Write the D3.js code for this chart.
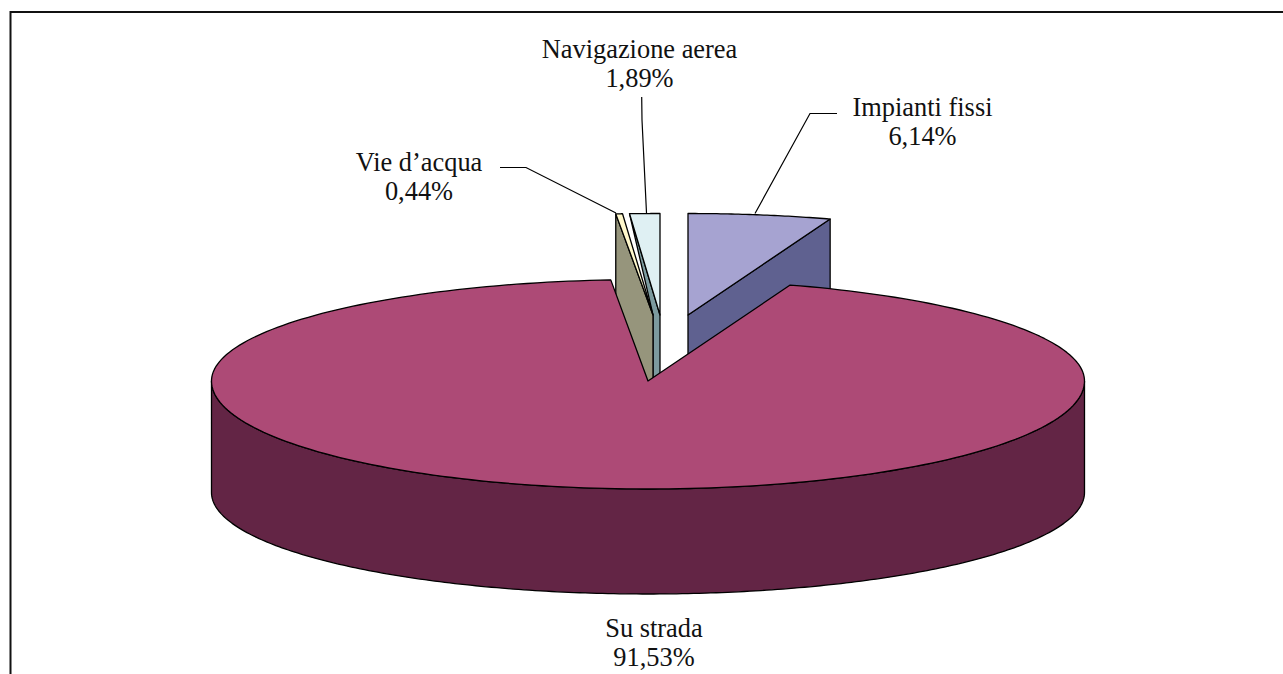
<!DOCTYPE html>
<html><head><meta charset="utf-8">
<script src="https://cdn.jsdelivr.net/npm/d3@7"></script>
<style>html,body{margin:0;padding:0;background:#fff;overflow:hidden}svg{display:block}text{font-family:"Liberation Serif",serif;font-size:26.4px;fill:#111}</style>
</head><body><svg id="c" width="1283" height="674"></svg>
<script>
// Data, clockwise from the back of the pie
const categories = ["Impianti fissi", "Su strada", "Vie d\u2019acqua", "Navigazione aerea"];
const shares = [6.14, 91.53, 0.44, 1.89];
const topColors = ["#A6A3D1", "#AD4A76", "#FFF8CC", "#DFF0F3"];
const wallColors = ["#5F6190", "#632545", "#96957C", "#7C9A9E"];

// Layout
const W = 1283, H = 674;
const cx = 648, cy = 381, rx = 436.5, ryBack = 101.5, ryFront = 108, depth = 105;
const explode = [[40, -66], [0, 0], [5, -66], [12, -66]];
const labelPos = [[922.5, 116], [654, 637], [419, 171], [639.5, 58]];
const leaders = [
  [[755, 213.5], [810, 113.5], [837, 113.5]],
  [],
  [[500, 167.5], [526, 167.5], [616, 213]],
  [[641.7, 97], [642, 120], [646.5, 213]]
];
const svg = d3.select("#c");
const pieData = d3.pie().sort(null).value(d => d).startAngle(0).endAngle(2 * Math.PI)(shares);

// Perspective foreshortening: true pie angle -> projected angle on the drawn ellipse
const rad = Math.PI / 180;
const persp = d3.scaleLinear()
  .domain([0, 22.1, 351.6, 353.2, 360].map(d => d * rad))
  .range([0, 19, 355.1, 356, 360].map(d => d * rad));

const pt = (t, off = [0, 0], dz = 0) => {
  const c = Math.cos(t);
  return [cx + off[0] + rx * Math.sin(t), cy + off[1] + dz - (c > 0 ? ryBack : ryFront) * c];
};
const tip = (off, dz = 0) => [cx + off[0], cy + off[1] + dz];
const arcPts = (a, b, off, dz = 0, n = 240) =>
  d3.range(n + 1).map(i => pt(a + (b - a) * i / n, off, dz));
const line = d3.line();
const poly = p => line(p) + "Z";
const face = (p, fill) => svg.append("path").attr("d", poly(p)).attr("fill", fill)
  .attr("stroke", "#000").attr("stroke-width", 1.3).attr("stroke-linejoin", "round");

const ang = pieData.map(d => [persp(d.startAngle), persp(d.endAngle)]);

// Frame: runs off the right and bottom of the picture
svg.append("path").attr("d", `M10.5 ${H}V12H${W}`).attr("fill", "none").attr("stroke", "#111").attr("stroke-width", 2);

// Impianti fissi: inner wall then top
{
  const i = 0, o = explode[i], e = pt(ang[i][1], o);
  face([tip(o), e, [e[0], e[1] + depth], tip(o, depth)], wallColors[i]);
  face([tip(o), ...arcPts(ang[i][0], ang[i][1], o, 0, 40)], topColors[i]);
}
// Navigazione aerea: inner wall runs into the neighbouring slice's tip
{
  const i = 3, o = explode[i], n = explode[2], s = pt(ang[i][0], o);
  face([s, tip(o), tip(o, depth), tip(n, depth), tip(n)], wallColors[i]);
  face([tip(o), ...arcPts(ang[i][0], ang[i][1], o, 0, 20)], topColors[i]);
}
// Vie d'acqua
{
  const i = 2, o = explode[i], s = pt(ang[i][0], o);
  face([s, tip(o), tip(o, depth), [s[0], s[1] + depth]], wallColors[i]);
  face([tip(o), ...arcPts(ang[i][0], ang[i][1], o, 0, 10)], topColors[i]);
}
// Su strada: outer wall, then top surface
{
  const i = 1, o = explode[i];
  const front = arcPts(Math.PI / 2, 3 * Math.PI / 2, o);
  const bcy = 492.5, bry = 101.5;
  const bottom = d3.range(241).map(k => {
    const t = 3 * Math.PI / 2 - Math.PI * k / 240;
    return [cx + rx * Math.sin(t), bcy - bry * Math.cos(t)];
  });
  face([...front, ...bottom], wallColors[i]);
  face([tip(o), ...arcPts(ang[i][0], ang[i][1], o)], topColors[i]);
}
// Leader lines
leaders.filter(l => l.length).forEach(l =>
  svg.append("path").attr("d", line(l)).attr("fill", "none").attr("stroke", "#000").attr("stroke-width", 1.2));

// Labels
const fmt = d3.format(".2f");
categories.forEach((c, i) => {
  const [x, y] = labelPos[i];
  const g = svg.append("text").attr("text-anchor", "middle");
  g.append("tspan").attr("x", x).attr("y", y).text(c);
  g.append("tspan").attr("x", x).attr("y", y + 29).text(fmt(shares[i]).replace(".", ",") + "%");
});
</script></body></html>
